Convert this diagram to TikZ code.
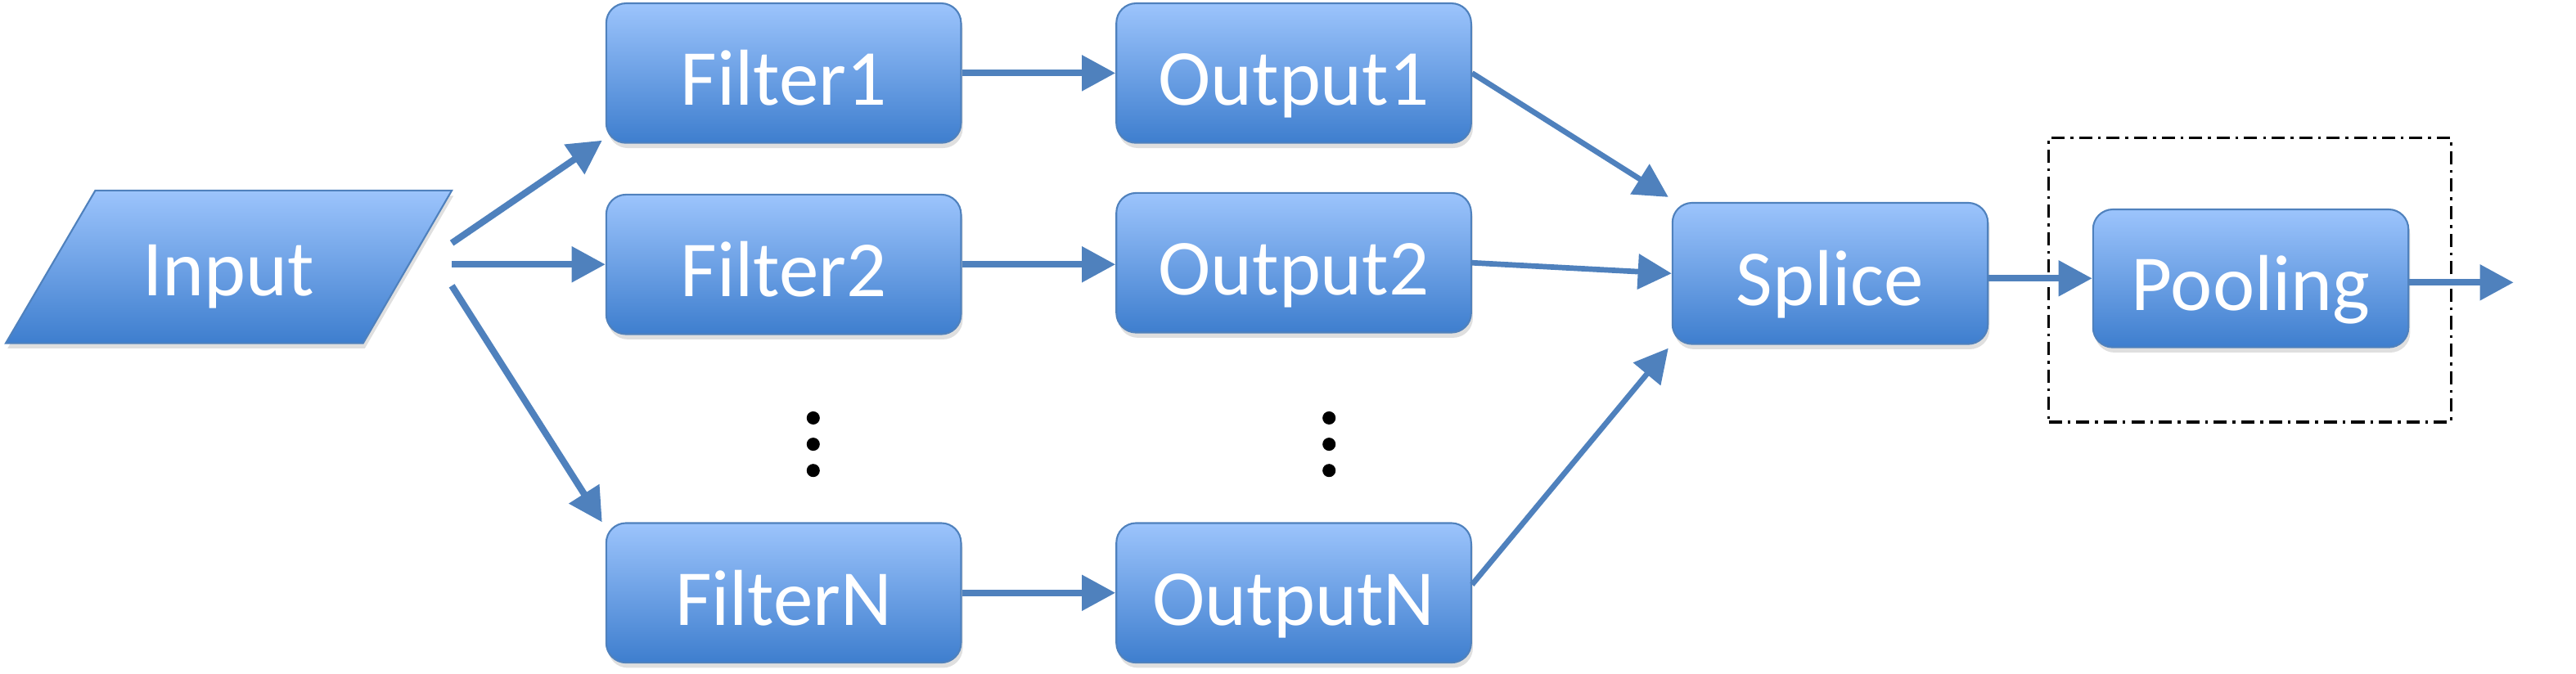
\documentclass[tikz,border=0pt]{standalone}
\usepackage{fontspec}
\setmainfont{Carlito}
\usetikzlibrary{arrows.meta,shadows}
\definecolor{arr}{RGB}{79,129,189}
\definecolor{topb}{RGB}{156,196,252}
\definecolor{botb}{RGB}{62,126,206}
\definecolor{edgeb}{RGB}{79,129,189}
\begin{document}
\begin{tikzpicture}[x=0.02cm,y=-0.02cm,
  blk/.style={rectangle, rounded corners=0.24cm, draw=edgeb, line width=0.6pt,
    top color=topb, bottom color=botb, minimum width=4.32cm, minimum height=1.7cm,
    inner sep=0pt, text=white, font=\fontsize{27.5}{30}\selectfont,
    text height=22.3pt, text depth=0pt,
    drop shadow={shadow xshift=0.6pt, shadow yshift=-1.8pt, opacity=0.25}},
  smallblk/.style={blk, minimum width=3.84cm, minimum height=1.72cm},
  lbl/.style={text=white, font=\fontsize{27.5}{30}\selectfont, text height=22.3pt, text depth=0pt, inner sep=0pt},
  con/.style={draw=arr, line width=2.3pt, -{Triangle[length=0.41cm,width=0.42cm]}},
  thincon/.style={con, line width=1.9pt},
  dots/.style={fill=black},
  poolframe/.style={draw=black, line width=1pt, dash pattern=on 0.16cm off 0.07cm on 0.035cm off 0.07cm}
]
\useasboundingbox (0,0) rectangle (1568,410);

% Input parallelogram
\path[draw=edgeb, line width=0.6pt, top color=topb, bottom color=botb,
  drop shadow={shadow xshift=0.6pt, shadow yshift=-1.8pt, opacity=0.25}]
  (58,116) -- (275,116) -- (221,209) -- (3.5,209) -- cycle;
\node[lbl] (Input) at (139,160.5) {Input};

% boxes
\node[blk] (Filter1) at (477,44.5) {Filter1};
\node[blk] (Filter2) at (477,161) {Filter2};
\node[blk] (FilterN) at (477,361) {FilterN};
\node[blk] (Output1) at (787.5,44.5) {Output1};
\node[blk] (Output2) at (787.5,160) {Output2};
\node[blk] (OutputN) at (787.5,361) {OutputN};
\node[smallblk] (Splice) at (1114,166.5) {Splice};
\node[smallblk, minimum height=1.68cm] (Pooling) at (1370,169.5) {Pooling};

% dashed frame around pooling
\node[poolframe, minimum width=4.9cm, minimum height=3.46cm, inner sep=0pt] (frame) at (1369.5,170.5) {};

% dots
\fill[dots] (495,254.5) circle [radius=0.08cm];
\fill[dots] (495,270.5) circle [radius=0.08cm];
\fill[dots] (495,286.5) circle [radius=0.08cm];
\fill[dots] (809,254.5) circle [radius=0.08cm];
\fill[dots] (809,270.5) circle [radius=0.08cm];
\fill[dots] (809,286.5) circle [radius=0.08cm];

% free ends
\coordinate (in1) at (275,148);
\coordinate (in2) at (275,161);
\coordinate (in3) at (275,174);
\coordinate (out) at (1530,172);

% connectors
\draw[con] (in1) -- ([shift={(-2,-2)}]Filter1.south west);
\draw[con] (in2) -- (Filter2.west);
\draw[con] (in3) -- ([shift={(-2,0)}]FilterN.north west);
\draw[con] (Filter1.east) -- (Output1.west);
\draw[con] (Filter2.east) -- (Filter2.east -| Output2.west);
\draw[con] (FilterN.east) -- (OutputN.west);
\draw[thincon] (Output1.east) -- ([shift={(-2,-3)}]Splice.north west);
\draw[thincon] (Output2.east) -- (Splice.west);
\draw[thincon] ([yshift=0.1cm]OutputN.east) -- ([shift={(-2,2)}]Splice.south west);
\draw[con] (Splice.east |- Pooling.west) -- (Pooling.west);
\draw[con] (Pooling.east |- out) -- (out);
\end{tikzpicture}
\end{document}
